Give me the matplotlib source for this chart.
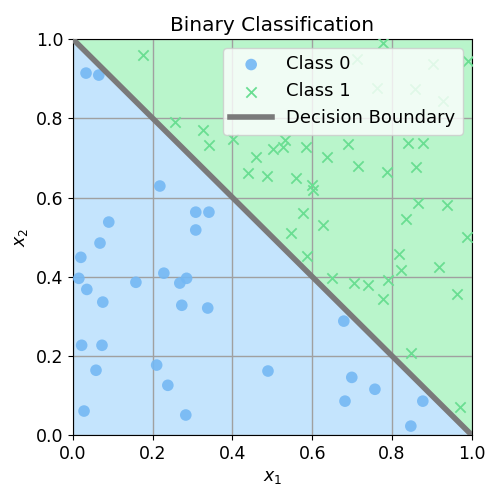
import numpy as np
import matplotlib
matplotlib.use("Agg")
import matplotlib.pyplot as plt

# class 0 points (blue circles)
class0_x = [0.033, 0.065, 0.218, 0.090, 0.308, 0.341, 0.308, 0.068, 0.020, 0.015,
            0.035, 0.158, 0.228, 0.268, 0.285, 0.075, 0.273, 0.338, 0.022, 0.073,
            0.058, 0.210, 0.489, 0.238, 0.028, 0.283, 0.679, 0.699, 0.757, 0.682,
            0.877, 0.847]
class0_y = [0.914, 0.909, 0.629, 0.538, 0.563, 0.563, 0.518, 0.485, 0.449, 0.396,
            0.368, 0.386, 0.409, 0.384, 0.396, 0.336, 0.328, 0.321, 0.227, 0.227,
            0.164, 0.177, 0.162, 0.126, 0.061, 0.051, 0.288, 0.146, 0.116, 0.086,
            0.086, 0.023]

# class 1 points (green crosses)
class1_x = [0.175, 0.256, 0.326, 0.341, 0.401, 0.459, 0.439, 0.486, 0.501, 0.526,
            0.531, 0.584, 0.637, 0.559, 0.599, 0.602, 0.576, 0.627, 0.546, 0.588,
            0.689, 0.714, 0.787, 0.840, 0.877, 0.860, 0.865, 0.937, 0.835, 0.987,
            0.817, 0.822, 0.917, 0.962, 0.649, 0.704, 0.739, 0.789, 0.777, 0.847,
            0.970, 0.777, 0.712, 0.902, 0.990, 0.762, 0.857, 0.927]
class1_y = [0.960, 0.790, 0.770, 0.732, 0.748, 0.702, 0.662, 0.654, 0.722, 0.727,
            0.745, 0.727, 0.702, 0.649, 0.631, 0.619, 0.561, 0.530, 0.510, 0.452,
            0.735, 0.679, 0.664, 0.737, 0.737, 0.677, 0.586, 0.581, 0.545, 0.500,
            0.458, 0.417, 0.425, 0.356, 0.396, 0.383, 0.379, 0.391, 0.343, 0.207,
            0.071, 0.990, 0.950, 0.937, 0.944, 0.876, 0.874, 0.843]

# decision boundary x1 + x2 = 1
boundary_x = np.array([0.0, 1.0])
boundary_y = 1.0 - boundary_x

fig = plt.figure(figsize=(4.89, 4.94), dpi=100)
ax = fig.add_axes([0.149, 0.119, 0.816, 0.802])

ax.fill_between(boundary_x, 0, boundary_y, color='#c4e4fd', linewidth=0)
ax.fill_between(boundary_x, boundary_y, 1, color='#b9f5cb', linewidth=0)

ax.scatter(class0_x, class0_y, s=70, color='#74b8f4', alpha=0.9,
           edgecolors='none', label='Class 0', zorder=3)
ax.scatter(class1_x, class1_y, s=55, marker='x', color='#6ade92',
           linewidths=1.3, label='Class 1', zorder=3)
ax.plot(boundary_x, boundary_y, color='#7a7a7a', linewidth=4,
        label='Decision Boundary', zorder=4)

ax.set_xlim(0, 1)
ax.set_ylim(0, 1)
ax.set_xticks(np.arange(0, 1.01, 0.2))
ax.set_yticks(np.arange(0, 1.01, 0.2))
ax.tick_params(labelsize=12.5)
ax.grid(True, color='#a0a0a0', linewidth=1)
ax.set_title('Binary Classification', fontsize=14.5)
ax.set_xlabel('$x_1$', fontsize=12.5)
ax.set_ylabel('$x_2$', fontsize=12.5)
ax.legend(loc='upper right', fontsize=13, handlelength=2.3, borderaxespad=0.5)

fig.savefig('out.png', dpi=100)
